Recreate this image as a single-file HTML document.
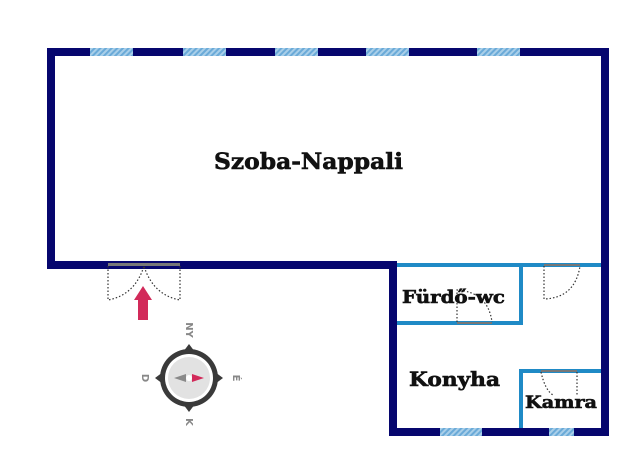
<!DOCTYPE html>
<html><head><meta charset="utf-8"><style>html,body{margin:0;padding:0;background:#fff;width:640px;height:469px;overflow:hidden}</style></head>
<body>
<svg width="640" height="469" viewBox="0 0 640 469" xmlns="http://www.w3.org/2000/svg">
<defs>
<pattern id="h" width="4" height="4" patternUnits="userSpaceOnUse" patternTransform="rotate(45)">
<rect width="4" height="4" fill="#a9cfe9"/><rect width="2" height="4" fill="#6aaad8"/>
</pattern>
</defs>
<g fill="#06066e">
<rect x="47" y="48" width="562" height="8"/>
<rect x="47" y="48" width="8" height="220"/>
<rect x="47" y="261" width="350" height="8"/>
<rect x="389" y="261" width="8" height="175"/>
<rect x="389" y="428" width="220" height="8"/>
<rect x="601" y="48" width="8" height="388"/>
</g>
<g fill="url(#h)">
<rect x="90" y="48" width="43" height="8"/>
<rect x="183" y="48" width="43" height="8"/>
<rect x="275" y="48" width="43" height="8"/>
<rect x="366" y="48" width="43" height="8"/>
<rect x="477" y="48" width="43" height="8"/>
<rect x="440" y="428" width="42" height="8"/>
<rect x="549" y="428" width="25" height="8"/>
</g>
<g fill="#1f8ac6">
<rect x="397" y="263" width="204" height="4"/>
<rect x="519" y="263" width="4" height="62"/>
<rect x="397" y="321" width="126" height="4"/>
<rect x="519" y="369" width="4" height="59"/>
<rect x="519" y="369" width="82" height="4"/>
</g>
<g fill="#777">
<rect x="108" y="263" width="72" height="3"/>
<rect x="544" y="264" width="36" height="2"/>
<rect x="457" y="322" width="35" height="2"/>
<rect x="541" y="370" width="36" height="2"/>
</g>
<g fill="none" stroke="#333" stroke-width="1.2" stroke-dasharray="1.5,2">
<path d="M108 266 V300 Q135 295 144 266"/>
<path d="M180 266 V300 Q153 295 144 266"/>
<path d="M544 266 V299 Q575 298 580 266"/>
<path d="M457 322 V290 Q488 292 492 322"/>
<path d="M577 372 V395"/>
<path d="M541 372 Q545 390 553 395"/>
</g>
<path d="M143 286 L152 300 L148 300 L148 320 L138 320 L138 300 L134 300 Z" fill="#d22a5a"/>
<g transform="translate(189,378)">
<path d="M0 -34 L6 -26 L-6 -26 Z M0 34 L6 26 L-6 26 Z M-34 0 L-26 6 L-26 -6 Z M34 0 L26 6 L26 -6 Z" fill="#3a3a3a"/>
<circle r="29" fill="#3a3a3a"/>
<circle r="24" fill="#fff"/>
<circle r="21" fill="#e2e2e2"/>
<path d="M-15 0 L-3 -4 L-3 4 Z" fill="#8a8a8a"/>
<circle r="3" fill="#fff"/>
<path d="M15 0 L3 -4 L3 4 Z" fill="#d22a5a"/>
<g font-family="DejaVu Sans, sans-serif" font-size="10" font-weight="bold" fill="#888" text-anchor="middle">
<text transform="translate(0,-48) rotate(90)" y="3">NY</text>
<text transform="translate(0,44) rotate(90)" y="3">K</text>
<text transform="translate(-44,0) rotate(90)" y="3">D</text>
<text transform="translate(47,0) rotate(90)" y="3">É</text>
</g>
</g>
<g font-family="DejaVu Serif, serif" font-weight="bold" fill="#111" stroke="#111" stroke-width="0.6" lengthAdjust="spacingAndGlyphs">
<text x="214" y="169" font-size="22" textLength="189" lengthAdjust="spacingAndGlyphs">Szoba-Nappali</text>
<text x="402" y="303" font-size="18" textLength="103" lengthAdjust="spacingAndGlyphs">Fürdő-wc</text>
<text x="409" y="386" font-size="20" textLength="91" lengthAdjust="spacingAndGlyphs">Konyha</text>
<text x="525" y="408" font-size="17" textLength="72" lengthAdjust="spacingAndGlyphs">Kamra</text>
</g>
</svg>
</body></html>
